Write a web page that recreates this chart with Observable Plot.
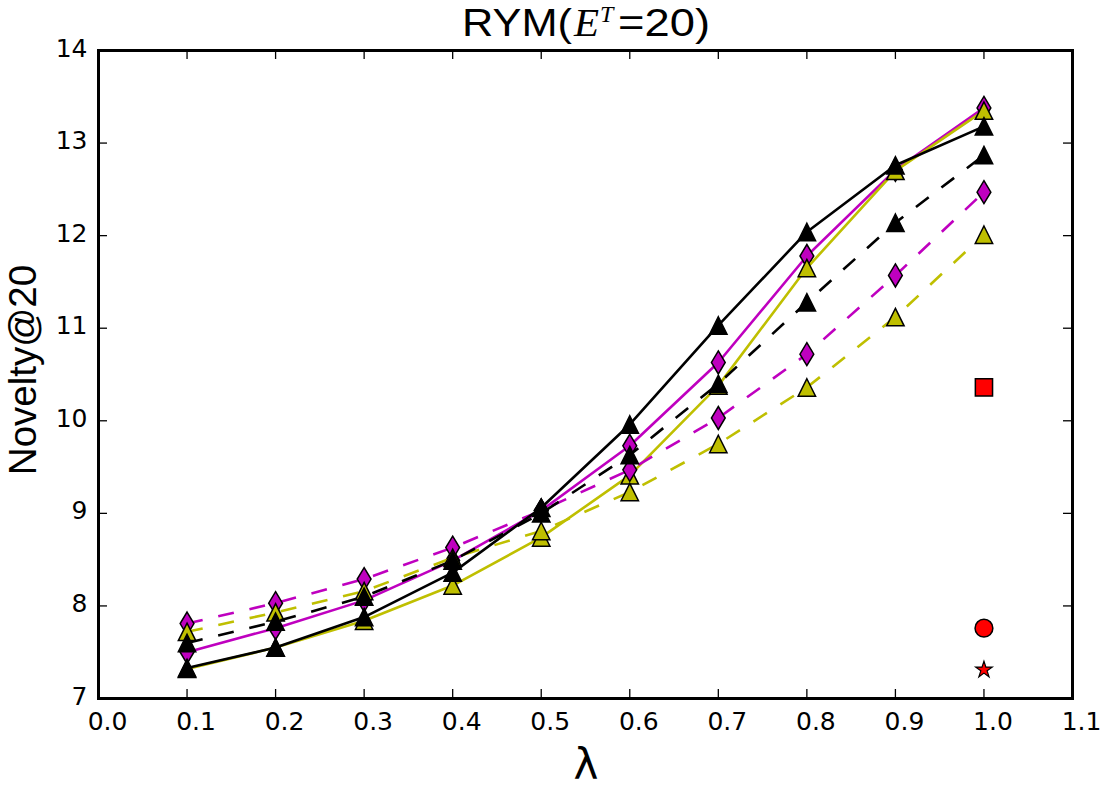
<!DOCTYPE html>
<html>
<head>
<meta charset="utf-8">
<script src="https://cdn.jsdelivr.net/npm/d3@7"></script>
<script src="https://cdn.jsdelivr.net/npm/@observablehq/plot@0.6"></script>
<style>
  html, body { margin: 0; padding: 0; background: white; }
  #wrap { position: relative; width: 1103px; height: 789px; overflow: hidden; }
  #title { position: absolute; left: 0; top: 0; }
  #ylabel { position: absolute; left: 0; top: 0; }
  #xlabel { position: absolute; left: 486px; width: 200px; top: 744px; text-align: center;
            font-family: "DejaVu Sans", sans-serif; font-size: 42px; line-height: 42px; }
</style>
</head>
<body>
<div id="wrap">
  <div id="chart"></div>
  <svg id="title" width="1103" height="50">
    <text x="462" y="36" font-family="Liberation Sans, Arial, sans-serif" font-size="38" textLength="110" lengthAdjust="spacingAndGlyphs">RYM(</text>
    <text x="574" y="36" font-family="Liberation Serif, serif" font-style="italic" font-size="41">E</text>
    <text x="600" y="22" font-family="Liberation Serif, serif" font-style="italic" font-size="24">T</text>
    <text x="618" y="36" font-family="Liberation Sans, Arial, sans-serif" font-size="38" textLength="92" lengthAdjust="spacingAndGlyphs">=20)</text>
  </svg>
  <svg id="ylabel" width="60" height="789">
    <text transform="translate(36,370) rotate(-90)" text-anchor="middle" font-family="Liberation Sans, Arial, sans-serif" font-size="38.5">Novelty@20</text>
  </svg>
  <div id="xlabel">λ</div>
</div>
<script>
// ---- data ----
const lambdas = [0.1, 0.2, 0.3, 0.4, 0.5, 0.6, 0.7, 0.8, 0.9, 1.0];
const magentaSolid  = [7.50, 7.76, 8.06, 8.49, 9.03, 9.73, 10.63, 11.78, 12.71, 13.38];
const yellowSolid   = [7.32, 7.55, 7.84, 8.22, 8.74, 9.41, 10.38, 11.65, 12.70, 13.35];
const magentaDashed = [7.81, 8.03, 8.29, 8.63, 9.03, 9.47, 10.03, 10.72, 11.57, 12.47];
const yellowDashed  = [7.72, 7.93, 8.16, 8.52, 8.81, 9.23, 9.75, 10.36, 11.12, 12.01];
const blackDashed   = [7.60, 7.83, 8.10, 8.49, 9.00, 9.63, 10.40, 11.28, 12.14, 12.87];
const blackSolid    = [7.33, 7.55, 7.88, 8.36, 9.06, 9.96, 11.03, 12.04, 12.76, 13.18];
const singleX = [1.0];
const squareY = [10.36];
const circleY = [7.76];
const starY   = [7.31];
const xTicks = [0.0, 0.1, 0.2, 0.3, 0.4, 0.5, 0.6, 0.7, 0.8, 0.9, 1.0, 1.1];
const yTicks = [7, 8, 9, 10, 11, 12, 13, 14];

// ---- symbols (matplotlib-like) ----
const triangleSym = { draw(ctx, size) { const s = Math.sqrt(size / Math.PI);
  ctx.moveTo(0, -s); ctx.lineTo(s, s); ctx.lineTo(-s, s); ctx.closePath(); } };
const thinDiamondSym = { draw(ctx, size) { const s = Math.sqrt(size / Math.PI);
  ctx.moveTo(0, -s); ctx.lineTo(0.6 * s, 0); ctx.lineTo(0, s); ctx.lineTo(-0.6 * s, 0); ctx.closePath(); } };
const squareSym = { draw(ctx, size) { const s = Math.sqrt(size / Math.PI);
  ctx.rect(-s, -s, 2 * s, 2 * s); } };

const MAG = "#bf00bf", YEL = "#bfbf00", BLK = "#000000", RED = "#ff0000";
const series = [
  {vals: magentaSolid,  color: MAG, dash: null,    sym: thinDiamondSym, r: 11.5},
  {vals: yellowSolid,   color: YEL, dash: null,    sym: triangleSym,    r: 8.7},
  {vals: magentaDashed, color: MAG, dash: "16,16", sym: thinDiamondSym, r: 11.5},
  {vals: yellowDashed,  color: YEL, dash: "16,16", sym: triangleSym,    r: 8.7},
  {vals: blackDashed,   color: BLK, dash: "16,16", sym: triangleSym,    r: 8.7},
  {vals: blackSolid,    color: BLK, dash: null,    sym: triangleSym,    r: 8.7}
];

const W = 1103, H = 789, mL = 98, mR = 31, mT = 50, mB = 91;
const pw = W - mL - mR, ph = H - mT - mB, tk = 9;

const marks = [];
for (const s of series) {
  const data = lambdas.map((x, i) => ({x, y: s.vals[i]}));
  marks.push(Plot.line(data, {x: "x", y: "y", stroke: s.color, strokeWidth: 2.6,
    strokeDasharray: s.dash ?? undefined, strokeLinecap: "butt", strokeLinejoin: "round"}));
  marks.push(Plot.dot(data, {x: "x", y: "y", symbol: s.sym, r: s.r, fill: s.color,
    stroke: "black", strokeWidth: 1.5}));
}
const sq = singleX.map((x, i) => ({x, y: squareY[i]}));
const ci = singleX.map((x, i) => ({x, y: circleY[i]}));
const st = singleX.map((x, i) => ({x, y: starY[i]}));
marks.push(Plot.dot(sq, {x: "x", y: "y", symbol: squareSym, r: 8.6, fill: RED, stroke: "black", strokeWidth: 1.5}));
marks.push(Plot.dot(ci, {x: "x", y: "y", symbol: "circle", r: 8.9, fill: RED, stroke: "black", strokeWidth: 1.5}));
marks.push(Plot.dot(st, {x: "x", y: "y", symbol: "star", r: 5.2, fill: RED, stroke: "black", strokeWidth: 1.2}));

// inward ticks on all four sides
marks.push(Plot.tickX(xTicks, {x: d => d, insetTop: ph - tk, stroke: "black", strokeWidth: 1.3}));
marks.push(Plot.tickX(xTicks, {x: d => d, insetBottom: ph - tk, stroke: "black", strokeWidth: 1.3}));
marks.push(Plot.tickY(yTicks, {y: d => d, insetRight: pw - tk, stroke: "black", strokeWidth: 1.3}));
marks.push(Plot.tickY(yTicks, {y: d => d, insetLeft: pw - tk, stroke: "black", strokeWidth: 1.3}));

marks.push(Plot.axisX(xTicks, {tickSize: 0, tickPadding: 14, dx: 9, tickFormat: d3.format(".1f"), label: null}));
marks.push(Plot.axisY(yTicks, {tickSize: 0, tickPadding: 11, dy: -2, tickFormat: d3.format("d"), label: null}));
marks.push(Plot.frame({stroke: "black", strokeWidth: 3}));

const chart = Plot.plot({
  width: W, height: H,
  marginLeft: mL, marginRight: mR, marginTop: mT, marginBottom: mB,
  x: {domain: [0, 1.1]},
  y: {domain: [7, 14]},
  style: {fontFamily: "DejaVu Sans, sans-serif", fontSize: "25px", background: "white", color: "black"},
  marks
});
document.getElementById("chart").appendChild(chart);
</script>
</body>
</html>
